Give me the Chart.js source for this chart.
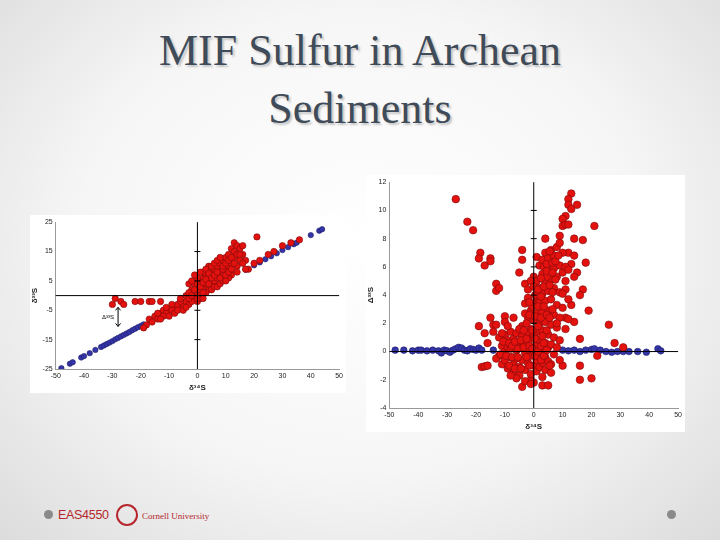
<!DOCTYPE html>
<html>
<head>
<meta charset="utf-8">
<script src="https://cdn.jsdelivr.net/npm/chart.js@4"></script>
<style>
  body { margin: 0; width: 720px; height: 540px; overflow: hidden;
         background: radial-gradient(ellipse at 50% 45%, #ffffff 0%, #f6f6f6 55%, #dcdcdc 100%);
         font-family: "Liberation Sans", Arial, sans-serif; position: relative; }
  h1 { position: absolute; top: 22px; left: 0; width: 720px; margin: 0; text-align: center;
       font-family: "Liberation Serif", serif; font-weight: normal; font-size: 44px; line-height: 58px;
       color: #3f4b58; text-shadow: 2px 2px 2px #c4c4c4; }
  .panel { position: absolute; background: #fff; }
  .dot { position: absolute; width: 9px; height: 9px; border-radius: 50%; background: #8a8a8a; }
  #foot { position: absolute; left: 58px; top: 508px; font-size: 12.5px; color: #b5272d; letter-spacing: -0.3px; }
  #seal { position: absolute; left: 116px; top: 504px; width: 22px; height: 22px; border-radius: 50%;
          border: 2px solid #b5272d; box-sizing: border-box; }
  #cu { position: absolute; left: 142px; top: 511px; font-family: "Liberation Serif", serif; font-size: 9px; color: #b5272d; }
</style>
</head>
<body>
<h1>MIF Sulfur in Archean<br>Sediments</h1>
<div class="panel" style="left:30px;top:215px;width:316px;height:178px"><canvas id="c1" width="316" height="178"></canvas></div>
<div class="panel" style="left:366px;top:175px;width:319px;height:257px"><canvas id="c2" width="319" height="257"></canvas></div>
<div class="dot" style="left:44px;top:510px"></div>
<div class="dot" style="left:667px;top:510px"></div>
<div id="foot">EAS4550</div>
<div id="seal"></div>
<div id="cu">Cornell University</div>
<script>
// linker Plot: d34S gegen d33S
const leftRed = [[-30,-3],[-29,-1],[-27,-2],[-26,-3],[-22,-2],[-20,-2],[-17,-2],[-16,-2],[-13,-2],[-18,-10],[-17,-8],[-15,-7],[-13,-6],[-12,-5],[-10,-5],[-8,-4],[-6,-4],[-5,-3],[-4,-2],[-3,-3],[-2,-1],[-1,0],[0,1],[0,3],[1,2],[1,5],[2,3],[2,6],[3,4],[3,7],[4,2],[4,6],[5,8],[5,4],[6,9],[6,5],[7,10],[7,6],[8,8],[8,11],[9,7],[9,12],[10,9],[10,13],[11,10],[11,14],[12,16],[12,11],[13,18],[13,13],[14,17],[14,10],[15,16],[15,12],[16,14],[18,9],[21,20],[20,11],[22,12],[25,14],[27,15],[30,17],[33,18],[36,19],[-3,4],[-2,2],[-1,4],[0,6],[2,8],[4,10],[-9,-5],[-11,-6],[-7,-3],[-14,-8],[-19,-11],[16,17],[17,12],[0,-2],[-2,-2],[3,1],[5,2],[6,3],[7,3],[8,4],[9,5],[12,7],[11,6],[10,5],[14,8],[-16,-9],[-12,-7],[-6,-2],[1,-1],[2,1],
  [-14,-6],[-13,-8],[-11,-4],[-10,-7],[-9,-3],[-8,-6],[-7,-5],[-6,-1],[-5,-5],[-4,0],[-4,-4],[-3,1],[-3,-1],[-2,0],[-2,5],[-1,2],[-1,7],[0,4],[0,-1],[1,3],[1,8],[2,4.5],[2,-1],[3,5.5],[3,9],[4,7.5],[4,4],[5,6],[5,10],[6,7],[6,11],[7,8],[7,12],[8,6],[8,13],[9,9],[9,10],[10,11],[10,7],[11,12],[11,8],[12,13],[12,9],[13,15],[13,11],[14,14],[15,14],[16,11],[17,9]];
const leftBlue = [[-48,-24.7],[-45,-23.2],[-44,-22.7],[-41,-21.1],[-40,-20.6],[-38,-19.6],[-36,-18.5],[-34,-17.5],[-33,-17],[-32,-16.5],[-31,-16],[-30,-15.5],[-29,-14.9],[-28,-14.4],[-27,-13.9],[-26,-13.4],[-25,-12.9],[-24,-12.4],[-23,-11.8],[-22,-11.3],[-21,-10.8],[-20,-10.3],[-19,-9.8],[17,8.8],[20,10.3],[22,11.3],[24,12.4],[26,13.4],[28,14.4],[30,15.5],[32,16.5],[34,17.5],[35,18],[40,20.6],[43,22.1],[44,22.6]];

// rechter Plot: d34S gegen D33S
const rightRed = [[-27,10.8],[-23,9.2],[-21,8.6],[-18.5,7],[-19,6.6],[-17,6.1],[-15,6.6],[-15,6.4],[-13,4.8],[-13,4.3],[-12,4.5],[-15,2.4],[-19,1.8],[-17,1.3],[-16,0.6],[-18,-1.1],[-17,-1.05],[-16,-1],[-14,1.9],[-13,1.9],[-14,1.4],[-10,2.5],[-10,2.1],[-7,2.4],[-5,5.6],[-4,7.2],[-4,6.5],[-3,4.8],[0,5.3],[1,5],[1,6.7],[4,8],[13,11.2],[12,10.8],[12,10.4],[13,10.1],[15,10.4],[11,9.6],[10,9.4],[10,8.9],[11,9],[12,9],[21,8.9],[9,8.2],[14,8],[17,7.9],[12,7],[14,6.8],[18,6.3],[13,6.2],[15,5.6],[14,5.3],[17,4.4],[16,4],[19,2.9],[13,3.3],[12,3.7],[14,2.1],[11,2.4],[26,1.9],[16,0.9],[28,0.6],[31,0.3],[22,-0.3],[16,-1],[16,-2],[20,-1.9],[10,-1],[9,-0.6],[-4,-2.5],[3,-2.4],[5,-2.4],[0,-2.2],[-1,-2],
  [2,6.1],[3,6.5],[4,7],[5,6.6],[6,7.2],[7,6.8],[8,7.4],[3,5.5],[5,5.8],[7,5.9],[9,6.1],[2,4.5],[4,4.9],[6,5.1],[8,5.3],[10,5.6],[1,3.8],[3,4.1],[5,4.3],[7,4.5],[9,4.2],[11,4.4],[0,3.4],[2,3.5],[4,3.6],[6,3.7],[8,3.3],[10,3.1],[-2,3.8],[-1,2.9],[1,2.7],[3,2.8],[5,2.9],[7,2.6],[9,2.4],[-3,3.4],[-2,2.4],[0,2.2],[2,2],[4,2.1],[6,1.9],[8,1.7],[-4,1.8],[-3,2.7],[-1,1.6],[1,1.4],[3,1.5],[5,1.2],[7,1],[9,0.8],[-2,4.4],[-1,5],[0,4.6],[10,7],[9,7.7],[11,6],[10,4.1],[12,5.8],[11,5],[12,2.3],[8,2],[11,1.6],
  [-12,1],[-11,0.4],[-12,-0.3],[-11,-0.9],[-10,1.2],[-10,0],[-10,-0.6],[-9,0.8],[-9,-1.2],[-9,0.3],[-8,1.4],[-8,-0.4],[-8,0.2],[-7,0.9],[-7,-0.9],[-7,-1.5],[-6,1.3],[-6,0.1],[-6,-0.5],[-5,1.6],[-5,0.6],[-5,-1.1],[-5,-1.7],[-4,0.3],[-4,-0.6],[-4,1.1],[-3,-1.3],[-3,0.7],[-3,-0.1],[-2,1.3],[-2,-0.8],[-2,0.2],[-1,-1.6],[-1,0.9],[-1,-0.3],[0,1.2],[0,0],[0,-1],[1,0.5],[1,-0.6],[1,-1.4],[2,0.8],[2,-0.2],[2,-1.1],[3,1.1],[3,0.1],[3,-0.8],[4,0.6],[4,-0.4],[4,-1.3],[5,0.3],[5,-0.7],[6,0.5],[6,-0.9],[7,-0.2],[8,0.3],[-13,-0.5],[-11,1.3],[-9,1.8],[-6,-1.9],[-3,-2.1],[-8,-1.7],[6,-1.5],[3,-1.8],[-1,-2.3],
  [-11.5,-0.2],[-10.5,0.7],[-9.5,-0.3],[-8.5,0.6],[-8.5,-1],[-7.5,0.4],[-7.5,-0.4],[-6.5,0.7],[-6.5,-1.2],[-5.5,0.2],[-5.5,-0.4],[-4.5,0.8],[-4.5,-1.2],[-3.5,0.3],[-3.5,1.5],[-2.5,-0.4],[-2.5,0.9],[-1.5,0.4],[-1.5,-1],[-0.5,1.5],[-0.5,0.2],[0.5,-0.3],[0.5,0.9],[1.5,0],[1.5,1.8],[2.5,0.4],[2.5,-0.6],[3.5,-0.3],[3.5,0.6],[4.5,0.1],[4.5,1.5],[5.5,-1],[-2.5,2],[-1.5,2.6],[-0.5,3.2],[0.5,2.5],[1.5,3.2],[2.5,2.4],[3.5,3.2],[4.5,2.6],[5.5,2.4],[6.5,3],[-1.5,3.5],[0.5,4],[1.5,4.4],[2.5,3.9],[3.5,4.6],[4.5,5.3],[5.5,4.7],[6.5,4.2],[7.5,5.1],[2.5,5.2],[3.5,6],[4.5,6.2],[5.5,7.1],[6.5,6.3],[7.5,6.4],[8.5,6.8],[4.5,5.7],[6.5,5.6]];
const rightBlue = [[-48,0.1],[-45,0.1],[-42,0.05],[-40,0.1],[-39,0.1],[-37,0.05],[-35,0.1],[-33,0.05],[-32,-0.1],[-31,0.1],[-30,0.05],[-29,-0.05],[-28,0.1],[-27,0.2],[-26,0.3],[-25,0.25],[-24,0.1],[-23,0.05],[-22,0.2],[-21,0.15],[-20,0.1],[-19,0.25],[-18,0.1],[-14,0.1],[10,0.1],[12,0.05],[14,0.1],[16,0],[18,0.1],[20,0.15],[21,0.2],[23,0.1],[25,0],[27,-0.05],[29,0],[31,0],[33,0],[36,0],[39,-0.05],[43,0.2],[44,0.05]];

const xTicks = [-50, -40, -30, -20, -10, 0, 10, 20, 30, 40, 50];

function pts(arr) { return arr.map(p => ({ x: p[0], y: p[1] })); }

// Achsen durch den Nullpunkt + Pfeil fuer Delta33S
const zeroAxes = {
  id: 'zeroAxes',
  afterDatasetsDraw(chart, args, opts) {
    const { ctx, chartArea: a, scales: { x, y } } = chart;
    const x0 = x.getPixelForValue(0), y0 = y.getPixelForValue(0);
    ctx.save();
    ctx.strokeStyle = '#000';
    ctx.lineWidth = 1;
    ctx.beginPath();
    ctx.moveTo(a.left, y0); ctx.lineTo(a.right, y0);
    ctx.moveTo(x0, a.top); ctx.lineTo(x0, a.bottom);
    opts.yt.forEach(v => { const p = y.getPixelForValue(v); ctx.moveTo(x0 - 3, p); ctx.lineTo(x0 + 3, p); });
    ctx.stroke();
    if (opts.arrow) {
      const ax = x.getPixelForValue(-28), t = y.getPixelForValue(-4), b = y.getPixelForValue(-10.5);
      ctx.beginPath();
      ctx.moveTo(ax, t); ctx.lineTo(ax, b);
      ctx.moveTo(ax - 2.5, t + 3); ctx.lineTo(ax, t); ctx.lineTo(ax + 2.5, t + 3);
      ctx.moveTo(ax - 2.5, b - 3); ctx.lineTo(ax, b); ctx.lineTo(ax + 2.5, b - 3);
      ctx.stroke();
      ctx.fillStyle = '#000';
      ctx.font = '6px "Liberation Sans"';
      ctx.textAlign = 'right';
      ctx.textBaseline = 'middle';
      ctx.fillText('Δ³³S', ax - 4, (t + b) / 2);
    }
    ctx.restore();
  }
};

function makeChart(id, red, blue, yMin, yMax, yStep, yLabel, arrow, yt, r) {
  new Chart(document.getElementById(id), {
    type: 'scatter',
    data: {
      datasets: [
        { data: pts(red), backgroundColor: '#e3120f', borderColor: '#7c0a0a', borderWidth: 0.6, pointRadius: r },
        { data: pts(blue), backgroundColor: '#3535a8', borderColor: '#1d1d6a', borderWidth: 0.6, pointRadius: r - 0.5 }
      ]
    },
    options: {
      responsive: false, animation: false,
      layout: { padding: { top: 6, right: 4 } },
      plugins: { legend: { display: false }, tooltip: { enabled: false }, zeroAxes: { arrow: arrow, yt: yt } },
      scales: {
        x: {
          type: 'linear', min: -50, max: 50,
          afterBuildTicks: s => { s.ticks = xTicks.map(v => ({ value: v })); },
          grid: { display: false, drawTicks: false },
          border: { color: '#999' },
          ticks: { color: '#222', font: { size: 7, family: 'Liberation Sans' }, padding: 3 },
          title: { display: true, text: 'δ³⁴S', color: '#222', font: { size: 8, weight: 'bold' }, padding: 0 }
        },
        y: {
          type: 'linear', min: yMin, max: yMax,
          ticks: { stepSize: yStep, color: '#222', font: { size: 7, family: 'Liberation Sans' }, padding: 3 },
          grid: { display: false, drawTicks: false },
          border: { color: '#999' },
          title: { display: true, text: yLabel, color: '#222', font: { size: 8, weight: 'bold' }, padding: 0 }
        }
      }
    },
    plugins: [zeroAxes]
  });
}

makeChart('c1', leftRed, leftBlue, -25, 25, 10, 'δ³³S', true, [-15, -5, 5, 15], 3.2);
makeChart('c2', rightRed, rightBlue, -4, 12, 2, 'Δ³³S', false, [2, 4, 6, 8, 10], 3.8);
</script>
</body>
</html>
